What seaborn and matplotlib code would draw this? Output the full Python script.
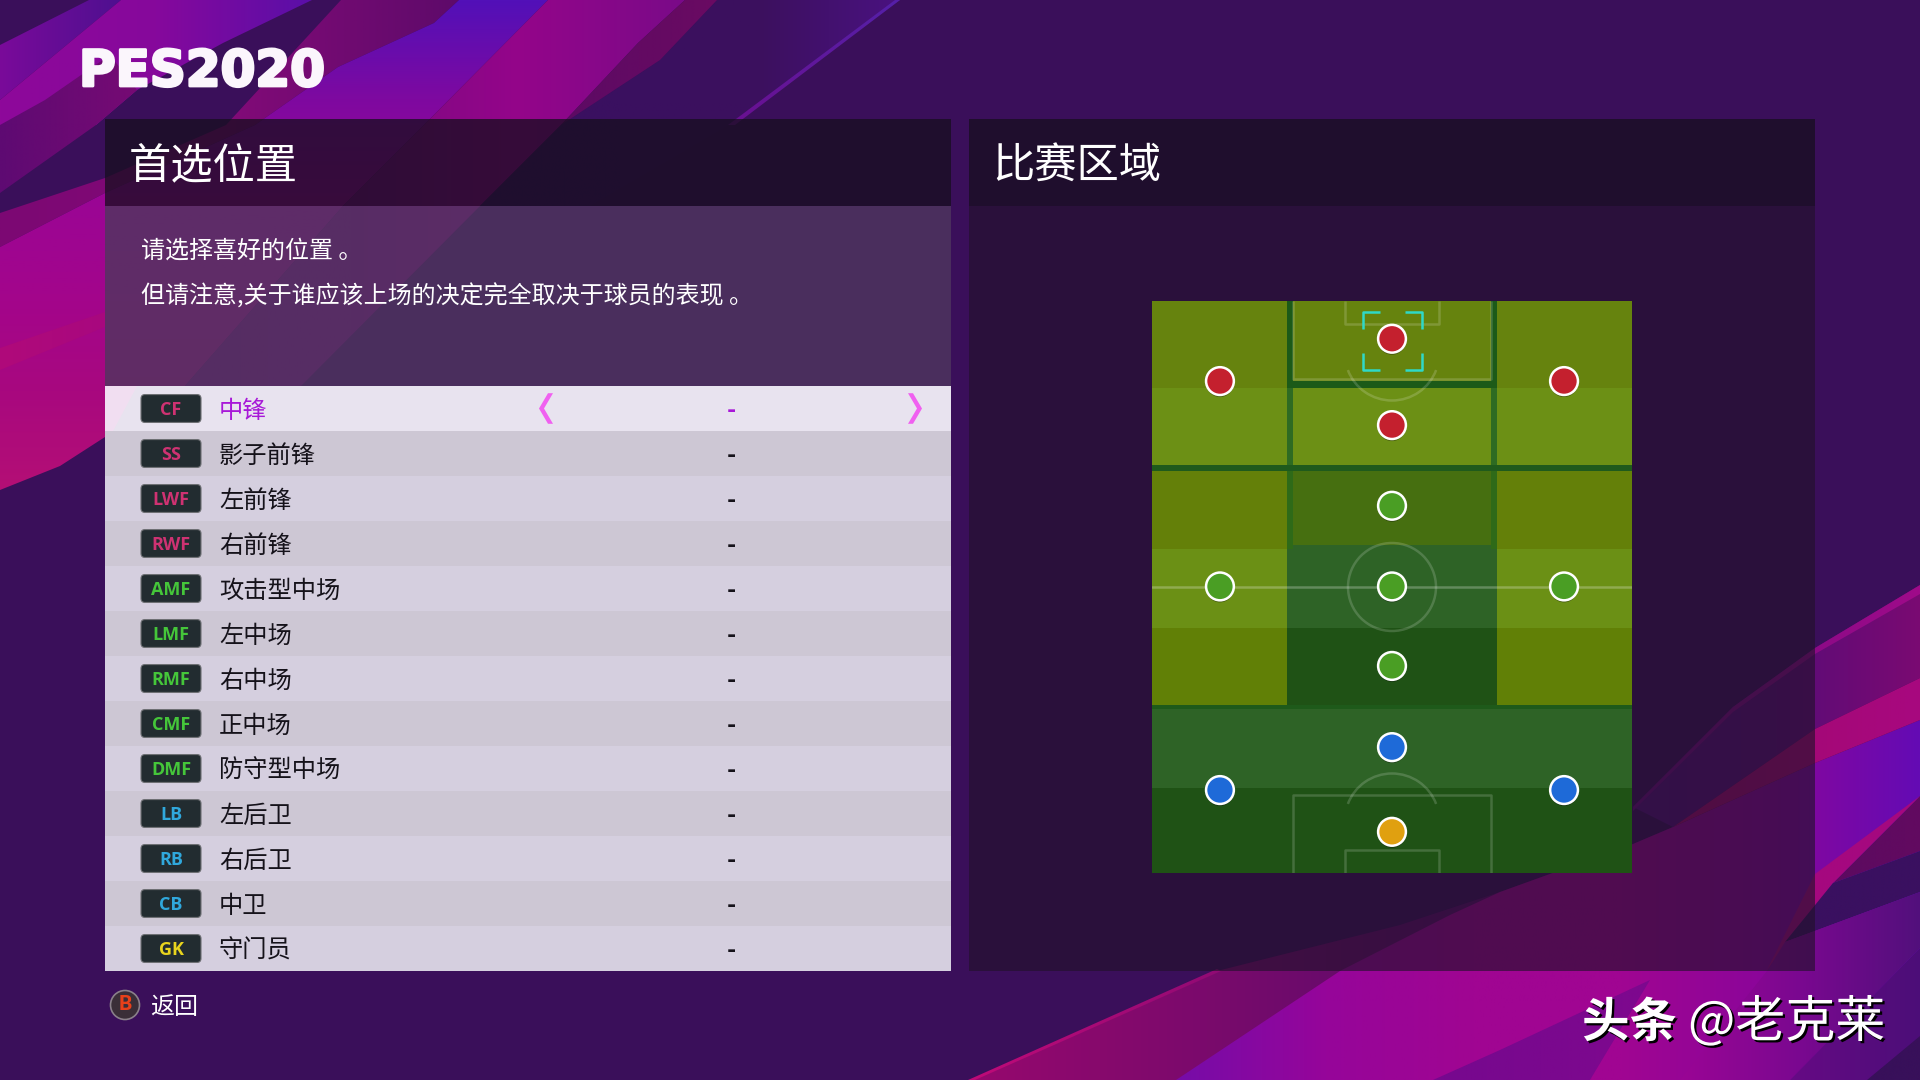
import numpy as np
import pandas as pd
import matplotlib
matplotlib.use('Agg')
import matplotlib.pyplot as plt
import matplotlib.patheffects as pe
import seaborn as sns
from matplotlib.colors import LinearSegmentedColormap
from matplotlib.patches import Rectangle, Polygon, Circle, FancyBboxPatch, Arc

# position list
CODES = ['CF', 'SS', 'LWF', 'RWF', 'AMF', 'LMF', 'RMF', 'CMF', 'DMF', 'LB', 'RB', 'CB', 'GK']
NAMES = ['中锋', '影子前锋', '左前锋', '右前锋', '攻击型中场', '左中场', '右中场',
         '正中场', '防守型中场', '左后卫', '右后卫', '中卫', '守门员']
VALUES = ['-'] * 13
GROUPS = ['fw', 'fw', 'fw', 'fw', 'mf', 'mf', 'mf', 'mf', 'mf', 'df', 'df', 'df', 'gk']

# pitch dots: lane -1/0/1 left to right, depth in % of the pitch from own goal
DOT_LANE = [0, -1, 1, 0, 0, -1, 0, 1, 0, 0, -1, 1, 0]
DOT_DEPTH = [93.4, 86.0, 86.0, 78.3, 64.2, 50.1, 50.1, 50.1, 36.2, 22.0, 14.5, 14.5, 7.2]
DOT_ROLE = ['fw', 'fw', 'fw', 'fw', 'mf', 'mf', 'mf', 'mf', 'mf', 'df', 'df', 'df', 'gk']

CODE_COLORS = {'fw': '#CF3272', 'mf': '#45C63A', 'df': '#30A8DC', 'gk': '#E8D41E'}
DOT_COLORS = {'fw': '#C4202E', 'mf': '#4A9E24', 'df': '#1E6AD8', 'gk': '#E0A010'}

sns.set_theme(style='white')
plt.rcParams['font.family'] = ['Noto Sans CJK SC', 'DejaVu Sans']

W, H = 1920, 1080
fig = plt.figure(figsize=(19.2, 10.8), dpi=100, facecolor='#3A0F5A')


def px_axes(left, top, right, bottom):
    return fig.add_axes([left / W, 1 - bottom / H, (right - left) / W, (bottom - top) / H])


def pt(px):
    return px * 0.72


bg = px_axes(0, 0, W, H)
bg.set_facecolor('#3A0F5A')


def grad(pts, stops, axis='x'):
    xs, ys = zip(*pts)
    g = np.linspace(0, 1, 256)
    img = g.reshape(1, -1) if axis == 'x' else g.reshape(-1, 1)
    cmap = LinearSegmentedColormap.from_list('g', stops)
    im = bg.imshow(img, cmap=cmap, aspect='auto', origin='upper', vmin=0, vmax=1,
                   extent=(min(xs), max(xs), max(ys), min(ys)))
    im.set_clip_path(Polygon(pts, closed=True, transform=bg.transData))


# ── background, top left ──────────────────────────────────────────────────
grad([(89, 0), (121, 0), (0, 100), (0, 45)], ['#7A0A9A', '#4E1090'])
grad([(121, 0), (312, 0), (223, 43), (137, 90), (96, 125), (0, 125), (0, 100)],
     ['#8E089A', '#86089C', '#5A0FA8'])
grad([(0, 125), (45, 100), (110, 55), (137, 90), (96, 125), (0, 193)], ['#5E0A72', '#760A74'])
grad([(341, 0), (459, 0), (434, 23), (338, 67), (255, 125), (105, 193), (0, 247), (0, 213),
      (105, 178), (226, 125)], ['#7C0873', '#820A78', '#5E0A6A'])
grad([(459, 0), (548, 0), (424, 125), (343, 206), (184, 387), (105, 437), (60, 466), (0, 490),
      (0, 247), (105, 193), (255, 125), (338, 67), (434, 23)],
     ['#5210B8', '#7E09A0', '#9A0595', '#A3058C', '#A8087F', '#B40F75'], axis='y')
grad([(0, 348), (105, 312), (105, 327), (0, 370)], ['#B00A7A', '#A8087F'])
grad([(548, 0), (685, 0), (638, 43), (561, 125), (480, 206), (300, 387), (184, 387), (343, 206),
      (424, 125)], ['#6E0A78', '#7A0A80', '#94058A', '#7A0A88'])
grad([(717, 0), (900, 0), (730, 125), (590, 206), (480, 206), (561, 125), (660, 60)],
     ['#3A1060', '#3A1060', '#3C105E', '#4A1280'])
grad([(685, 0), (717, 0), (660, 60), (561, 125), (638, 43)], ['#5C0A64', '#6A0A62'])
grad([(895, 0), (900, 0), (735, 125), (728, 125)], ['#5520A8', '#6A1090'], axis='y')

# ── background, lower right ───────────────────────────────────────────────
grad([(970, 1080), (1217, 971), (1400, 925), (1500, 892), (1633, 844), (1673, 827), (1815, 763),
      (1920, 720), (1920, 1080)], ['#96086E', '#7A0A6C', '#5A0C6A', '#50106A', '#50106A'])
grad([(1176, 1080), (1340, 971), (1450, 915), (1500, 892), (1633, 844), (1673, 827), (1815, 763),
      (1920, 720), (1920, 1080)], ['#760CA8', '#96059A', '#A00592', '#A00592', '#8A069A', '#640BB4'])
grad([(968, 1080), (1217, 969), (1221, 971), (975, 1080)], ['#C00A78', '#900A74'])
grad([(1920, 585), (1815, 648), (1733, 707), (1633, 807), (1673, 827), (1815, 729), (1920, 678)],
     ['#52107C', '#5A0C78', '#7A0A72'])
grad([(1920, 585), (1815, 648), (1733, 707), (1633, 807), (1633, 811), (1733, 712), (1815, 654),
      (1920, 594)], ['#6A0A80', '#A00A8A'])
grad([(1920, 678), (1815, 729), (1673, 827), (1815, 763), (1920, 720)], ['#A0086E', '#A8087F'])
grad([(1920, 796), (1833, 883), (1920, 851)], ['#5C0A60', '#620A60'])
grad([(1920, 796), (1815, 874), (1767, 970), (1815, 907), (1833, 883)], ['#A5087F', '#A5087F'])
grad([(1920, 851), (1833, 883), (1785, 942), (1920, 892)], ['#3A1060', '#3A1060'])
grad([(1920, 892), (1785, 942), (1767, 971), (1680, 1080), (1790, 1080), (1920, 948)],
     ['#9A0595', '#7A0890', '#52107C'])
grad([(1920, 948), (1790, 1080), (1920, 1080)], ['#660A85', '#4C0E78'])
grad([(1920, 1036), (1867, 1080), (1920, 1080)], ['#38105A', '#38105A'])
grad([(1433, 1080), (1500, 1050), (1650, 980), (1590, 1080)], ['#76088E', '#7E088E'])

# ── panels ────────────────────────────────────────────────────────────────
bg.add_patch(Rectangle((105, 119), 846, 87, fc='#160E1E', alpha=0.75, lw=0, zorder=3))
bg.add_patch(Rectangle((105, 206), 846, 180, fc='#4F365E', alpha=0.8, lw=0, zorder=3))
bg.add_patch(Rectangle((969, 119), 846, 87, fc='#160E1E', alpha=0.75, lw=0, zorder=3))
bg.add_patch(Rectangle((969, 206), 846, 765, fc='#21112A', alpha=0.63, lw=0, zorder=3))

# ── headings ──────────────────────────────────────────────────────────────
bg.text(79, 72, 'PES2020', color='#FBF6FC', fontsize=pt(50), fontweight='bold',
        family='DejaVu Sans', va='center', ha='left', zorder=5,
        path_effects=[pe.withStroke(linewidth=2, foreground='#FBF6FC')])
bg.text(129, 166.5, '首选位置', color='white', fontsize=pt(42.3), va='center', zorder=5)
bg.text(992, 166.5, '比赛区域', color='white', fontsize=pt(42.3), va='center', zorder=5)
bg.text(141, 251.5, '请选择喜好的位置 。', color='white', fontsize=pt(24), va='center', zorder=5)
bg.text(141, 296.5, '但请注意,关于谁应该上场的决定完全取决于球员的表现 。', color='white',
        fontsize=pt(24), va='center', zorder=5)

# ── back button and watermark ─────────────────────────────────────────────
bg.add_patch(Circle((125, 1005), 14.5, fc='#3A2E38', ec='#8A808A', lw=1.2, zorder=5))
bg.text(125, 1005, 'B', color='#E8401A', fontsize=pt(21), fontweight='bold', family='Roboto',
        ha='center', va='center', zorder=6)
bg.text(150, 1007, '返回', color='white', fontsize=pt(24), va='center', zorder=5)

shadow = [pe.withSimplePatchShadow(offset=(1.6, -1.6), shadow_rgbFace='black', alpha=1)]
bg.text(1582, 1023, '头条', color='white', fontsize=pt(47.5), fontweight='bold', va='center',
        zorder=5, path_effects=shadow)
bg.text(1688, 1023, '@老克莱', color='white', fontsize=pt(50), va='center', zorder=5,
        path_effects=shadow)

bg.set_xlim(0, W)
bg.set_ylim(H, 0)
bg.axis('off')

# ── position list ─────────────────────────────────────────────────────────
rows = pd.DataFrame({'code': CODES, 'name': NAMES, 'value': VALUES, 'group': GROUPS})
rows['width'] = 846
stripe = {c: ('#E8E3EF' if i == 0 else '#CDC7D4' if i % 2 else '#D5CFDF')
          for i, c in enumerate(CODES)}

lst = px_axes(105, 386, 951, 971)
sns.barplot(data=rows, x='width', y='code', hue='code', palette=stripe, width=1.0, saturation=1,
            legend=False, linewidth=0, ax=lst)
lst.set_xlim(0, 846)
lst.set_ylim(12.5, -0.5)
lst.axis('off')

# pink glow in the corner of the selected row
lst.add_patch(Polygon([(0, -0.5), (32, -0.5), (8, 0.5), (0, 0.5)], fc='#F6DDF2', alpha=0.7, lw=0))

for i, r in rows.iterrows():
    selected = i == 0
    lst.add_patch(FancyBboxPatch((36, i - 0.31), 60, 0.62, boxstyle='round,pad=0,rounding_size=4',
                                 mutation_aspect=1 / 45, fc='#222C30', ec='#6E7074', lw=0.8))
    lst.text(66, i + 0.03, r['code'], color=CODE_COLORS[r['group']], fontsize=pt(18),
             fontweight='bold', family='Open Sans', ha='center', va='center')
    lst.text(114, i + 0.05, r['name'], color='#A818D8' if selected else '#15121A',
             fontsize=pt(24.3), va='center')
    lst.text(626, i + 0.05, r['value'], color='#A818D8' if selected else '#15121A',
             fontsize=pt(22), fontweight='bold', family='DejaVu Sans', ha='center', va='center')

# chevrons on the selected row
lst.add_patch(Polygon([(443, -0.34), (448, -0.34), (439, 0.0), (448, 0.34), (443, 0.34), (434, 0.0)],
                      fc='#F060F0', lw=0))
lst.add_patch(Polygon([(803, -0.34), (808, -0.34), (817, 0.0), (808, 0.34), (803, 0.34), (812, 0.0)],
                      fc='#F060F0', lw=0))

# ── pitch zones, in screen pixels ─────────────────────────────────────────
pz = px_axes(1152, 301, 1632, 873)
pz.set_xlim(1152, 1632)
pz.set_ylim(873, 301)
pz.axis('off')


def zone(x0, x1, y0, y1, color):
    pz.add_patch(Rectangle((x0, y0), x1 - x0, y1 - y0, fc=color, lw=0))


L, C0, C1, R = 1152, 1287, 1497, 1632
for y0, y1, c in [(301, 388, '#66830E'), (388, 465, '#6C9015'), (465, 471, '#1F5A1C'),
                  (471, 549, '#648009'), (549, 628, '#6B9015'), (628, 705, '#618006')]:
    zone(L, C0, y0, y1, c)
    zone(C1, R, y0, y1, c)
zone(C0, C1, 301, 381, '#66830E')
zone(C0, C1, 381, 388, '#1C5A18')
zone(C0, C1, 388, 465, '#6C9015')
zone(C0, C1, 465, 471, '#1F5A1C')
zone(C0, C1, 471, 545, '#466F10')
zone(C0, C1, 545, 549, '#2E6326')
zone(C0, C1, 549, 628, '#2E6326')
zone(C0, C1, 628, 705, '#1F5215')
zone(L, R, 705, 709, '#1E5A1A')
zone(L, R, 709, 788, '#2E6326')
zone(L, R, 788, 873, '#1F5215')
# dark frame around the centre of the attacking third
for x0 in (C0, C1 - 6):
    zone(x0, x0 + 6, 301, 388, '#1C5A18')
    zone(x0, x0 + 6, 388, 465, '#2E6B22')
    zone(x0, x0 + 6, 471, 549, '#2E6A18')

# pitch markings
line = dict(color='white', alpha=0.17, lw=1.8, solid_capstyle='butt')
pz.plot([L, R], [587, 587], color='white', alpha=0.25, lw=1.8)
pz.plot([1293, 1293, 1491, 1491], [301, 379, 379, 301], **line)
pz.plot([1345, 1345, 1439, 1439], [301, 324, 324, 301], **line)
pz.plot([1293, 1293, 1491, 1491], [873, 795, 795, 873], **line)
pz.plot([1345, 1345, 1439, 1439], [873, 850, 850, 873], **line)
pz.add_patch(Circle((1392, 587), 44, fc='none', ec='white', alpha=0.17, lw=1.8))
pz.add_patch(Arc((1392, 354), 94, 93, theta1=20, theta2=160, ec='white', alpha=0.17, lw=1.8))
pz.add_patch(Arc((1392, 820), 94, 93, theta1=200, theta2=340, ec='white', alpha=0.17, lw=1.8))

# focus brackets around the selected dot
cy = dict(color='#2FD9C8', lw=1.8, solid_capstyle='butt')
for sx, x in ((1, 1363), (-1, 1422)):
    for sy, y in ((1, 312), (-1, 370)):
        pz.plot([x + sx * 17, x, x], [y, y, y + sy * 17], **cy)

# ── pitch dots ────────────────────────────────────────────────────────────
dots = pd.DataFrame({'lane': DOT_LANE, 'depth': DOT_DEPTH, 'role': DOT_ROLE})
pitch = px_axes(1152, 301, 1632, 873)
pitch.patch.set_alpha(0)
sns.scatterplot(data=dots, x='lane', y='depth', hue='role', palette=DOT_COLORS, s=400,
                edgecolor='white', linewidth=1.8, legend=False, ax=pitch, clip_on=False)
pitch.collections[0].set_path_effects([
    pe.withSimplePatchShadow(offset=(0, -1.5), shadow_rgbFace='black', alpha=0.35)])
pitch.set_xlim(-1.395, 1.395)
pitch.set_ylim(0, 100)
pitch.axis('off')

fig.savefig('out.png', dpi=100)
